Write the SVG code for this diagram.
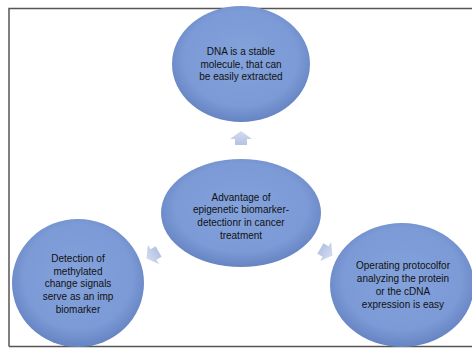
<svg xmlns="http://www.w3.org/2000/svg" width="472" height="349" viewBox="0 0 472 349">
<defs>
<radialGradient id="g" cx="50%" cy="45%" r="55%">
<stop offset="0" stop-color="#84a3dc"/>
<stop offset="0.75" stop-color="#7b9ad6"/>
<stop offset="1" stop-color="#6684c2"/>
</radialGradient>
<linearGradient id="ag" x1="0" y1="0" x2="0" y2="1">
<stop offset="0" stop-color="#d3dcef"/>
<stop offset="1" stop-color="#b4c3e3"/>
</linearGradient>
<style>
.n{fill:url(#g);}
.t{font-family:"Liberation Sans",Arial,sans-serif;font-size:10px;fill:#111;text-anchor:middle;}
.a{fill:url(#ag);}
</style>
</defs>
<rect x="0" y="0" width="472" height="349" fill="#fff"/>
<path d="M9,346.5 V8.5 H472" fill="none" stroke="#555" stroke-width="1.5"/>
<path d="M9,346.5 H472" fill="none" stroke="#555" stroke-width="1.5"/>
<g id="connectors">
<path class="a" d="M241,131 L252,139 L247,139 L247,145 L235,145 L235,139 L230,139 Z"/>
<path class="a" transform="rotate(-120 156 253)" d="M156,242 L167,250 L162,250 L162,256 L150,256 L150,250 L145,250 Z"/>
<path class="a" transform="rotate(120 323 250)" d="M323,239 L334,247 L329,247 L329,253 L317,253 L317,247 L312,247 Z"/>
</g>
<g id="top">
<ellipse class="n" cx="241" cy="64" rx="69" ry="58"/>
<text class="t" x="241" y="55">DNA is a stable</text>
<text class="t" x="241" y="67.6">molecule, that can</text>
<text class="t" x="241" y="80.3">be easily extracted</text>
</g>
<g id="center">
<ellipse class="n" cx="241" cy="213" rx="80" ry="54"/>
<text class="t" x="241" y="200.5">Advantage of</text>
<text class="t" x="241" y="213.2">epigenetic biomarker-</text>
<text class="t" x="241" y="225.9">detectionr in cancer</text>
<text class="t" x="241" y="238.6">treatment</text>
</g>
<g id="left">
<ellipse class="n" cx="78" cy="283" rx="66" ry="64"/>
<text class="t" x="78" y="261.5">Detection of</text>
<text class="t" x="78" y="274.5">methylated</text>
<text class="t" x="78" y="287.3">change signals</text>
<text class="t" x="78" y="300.3">serve as an imp</text>
<text class="t" x="78" y="313.2">biomarker</text>
</g>
<g id="right">
<ellipse class="n" cx="402" cy="285" rx="72" ry="62"/>
<text class="t" x="403" y="269">Operating protocolfor</text>
<text class="t" x="403" y="281.7">analyzing the protein</text>
<text class="t" x="403" y="294.6">or the cDNA</text>
<text class="t" x="403" y="307.5">expression is easy</text>
</g>
</svg>
